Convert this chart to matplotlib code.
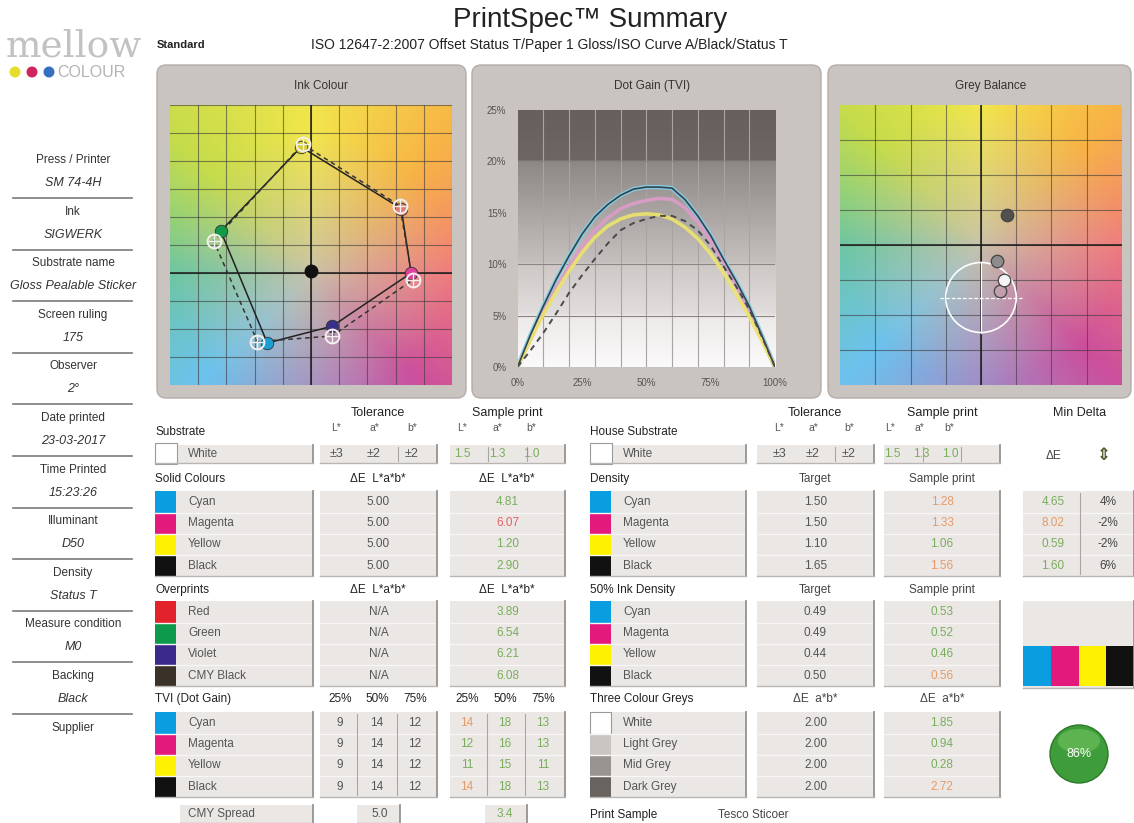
import numpy as np
import matplotlib
matplotlib.use('Agg')
import matplotlib.pyplot as plt
from matplotlib.patches import Rectangle, FancyBboxPatch, Circle, Ellipse
from matplotlib.colors import LinearSegmentedColormap, to_rgb

plt.rcParams['font.family'] = ['Liberation Sans', 'DejaVu Sans']

W, H = 1134, 823

# ---------------- data ----------------
info_labels = ['Press / Printer', 'Ink', 'Substrate name', 'Screen ruling', 'Observer',
               'Date printed', 'Time Printed', 'Illuminant', 'Density',
               'Measure condition', 'Backing', 'Supplier']
info_values = ['SM 74-4H', 'SIGWERK', 'Gloss Pealable Sticker', '175', '2°',
               '23-03-2017', '15:23:26', 'D50', 'Status T', 'M0', 'Black', '']

# ink colour plot (a*, b*)
ink_names = ['Yellow', 'Red', 'Magenta', 'Violet', 'Cyan', 'Green']
ink_sample_a = [-7, 64, 71, 15, -31, -64]
ink_sample_b = [90, 46, 0, -38, -50, 30]
ink_target_a = [-6, 63, 72, 15, -38, -69]
ink_target_b = [92, 48, -5, -45, -49, 23]
ink_fill = ['#d6cf3a', '#e07a70', '#e0409a', '#3a2f8a', '#1a9fd2', '#129a48']
black_a, black_b = 0, 1.6

# dot gain (TVI) curves
tone = [0, 5, 10, 15, 20, 25, 30, 35, 40, 45, 50, 55, 60, 65, 70, 75, 80, 85, 90, 95, 100]
tvi_cyan = [0, 3.1, 5.9, 8.5, 10.8, 12.9, 14.6, 15.8, 16.7, 17.3, 17.5, 17.5, 17.4, 16.3, 14.7, 12.8, 10.5, 8.3, 5.9, 3.0, 0]
tvi_magenta = [0, 2.7, 5.3, 7.7, 9.8, 11.7, 13.3, 14.5, 15.4, 15.9, 16.2, 16.4, 16.3, 15.5, 14.1, 12.3, 10.2, 7.9, 5.5, 2.8, 0]
tvi_yellow = [0, 2.6, 5.1, 7.3, 9.3, 11.1, 12.6, 13.7, 14.4, 14.8, 14.9, 14.8, 14.4, 13.6, 12.5, 11.0, 9.2, 7.1, 4.9, 2.5, 0]
tvi_black = [0, 3.1, 5.9, 8.5, 10.8, 12.9, 14.6, 15.8, 16.7, 17.3, 17.5, 17.5, 17.4, 16.3, 14.7, 12.8, 10.5, 8.3, 5.9, 3.0, 0]
tvi_target = [0, 1.6, 3.3, 5.2, 7.2, 8.9, 10.5, 12.0, 13.3, 14.0, 14.4, 14.7, 14.7, 14.2, 13.3, 11.8, 9.8, 7.8, 5.6, 2.9, 0]

# grey balance plot
grey_a = [1.1, 1.3, 0.9, 1.5]
grey_b = [-2.6, -2.0, -0.9, 1.7]
grey_fill = ['none', '#f4f4f4', '#8c8c8c', '#505050']
grey_tol_a, grey_tol_b, grey_tol_r = 0, -3.0, 2.0

# tables
sub_tol = ['±3', '±2', '±2']
sub_sample = ['1.5', '1.3', '1.0']
sub_sample_col = ['g', 'g', 'g']

cmyk_names = ['Cyan', 'Magenta', 'Yellow', 'Black']
cmyk_swatch = ['#0a9ee0', '#e4197c', '#fff200', '#111111']
solid_tol = ['5.00', '5.00', '5.00', '5.00']
solid_sample = ['4.81', '6.07', '1.20', '2.90']
solid_sample_col = ['g', 'r', 'g', 'g']

over_names = ['Red', 'Green', 'Violet', 'CMY Black']
over_swatch = ['#e3232b', '#0e9a4c', '#3b2a8c', '#3a3129']
over_tol = ['N/A', 'N/A', 'N/A', 'N/A']
over_sample = ['3.89', '6.54', '6.21', '6.08']
over_sample_col = ['g', 'g', 'g', 'g']

tvi_head = ['25%', '50%', '75%']
tvi_tol = [['9', '14', '12'], ['9', '14', '12'], ['9', '14', '12'], ['9', '14', '12']]
tvi_sample = [['14', '18', '13'], ['12', '16', '13'], ['11', '15', '11'], ['14', '18', '13']]
tvi_sample_col = [['o', 'g', 'g'], ['g', 'g', 'g'], ['g', 'g', 'g'], ['o', 'g', 'g']]
spread_tol, spread_sample = '5.0', '3.4'

dens_target = ['1.50', '1.50', '1.10', '1.65']
dens_sample = ['1.28', '1.33', '1.06', '1.56']
dens_sample_col = ['o', 'o', 'g', 'o']
min_de = ['4.65', '8.02', '0.59', '1.60']
min_de_col = ['g', 'o', 'g', 'g']
min_pct = ['4%', '-2%', '-2%', '6%']

ink50_target = ['0.49', '0.49', '0.44', '0.50']
ink50_sample = ['0.53', '0.52', '0.46', '0.56']
ink50_sample_col = ['g', 'g', 'g', 'o']

grey_names = ['White', 'Light Grey', 'Mid Grey', 'Dark Grey']
grey_swatch = ['#ffffff', '#c9c5c1', '#99948f', '#68635e']
grey_target = ['2.00', '2.00', '2.00', '2.00']
grey_sample = ['1.85', '0.94', '0.28', '2.72']
grey_sample_col = ['g', 'g', 'g', 'o']

score = '86%'
print_sample = 'Tesco Sticoer'

COL = {'g': '#79ad5c', 'o': '#e69a6a', 'r': '#e26262', 'n': '#555555'}

# hue wheel used for the a*/b* plane backgrounds (angle in degrees -> edge colour)
wheel_deg = [-180, -135, -90, -45, 0, 45, 90, 135, 180]
wheel_col = ['#6cc6a2', '#6cc2ee', '#a08cc8', '#cc4f9c', '#f07c7c', '#f8b446',
             '#f2e64c', '#c6dc4a', '#6cc6a2']
plane_centre = '#c9c3aa'


def plane(u, v):
    ang = np.degrees(np.arctan2(v, u))
    rad = np.clip(np.hypot(u, v), 0, 1) ** 0.85
    wc = np.array([to_rgb(c) for c in wheel_col])
    edge = np.stack([np.interp(ang, wheel_deg, wc[:, k]) for k in range(3)], axis=-1)
    cen = np.array(to_rgb(plane_centre))
    return cen * (1 - rad[..., None]) + edge * rad[..., None]


fig = plt.figure(figsize=(W / 100, H / 100), dpi=100)
bg = fig.add_axes([0, 0, 1, 1])
bg.set_xlim(0, W)
bg.set_ylim(H, 0)
bg.axis('off')


def px_axes(x0, y0, x1, y1):
    return fig.add_axes([x0 / W, 1 - y1 / H, (x1 - x0) / W, (y1 - y0) / H])


def txt(x, y, s, size=8.5, color='#555555', ha='center', **kw):
    bg.text(x, y, s, fontsize=size, color=color, ha=ha, va='center', **kw)


# ---------------- header ----------------
txt(590, 20, 'PrintSpec™ Summary', size=20, color='#222222')
txt(157, 45, 'Standard', size=8, color='#222222', ha='left', weight='bold')
txt(311, 45, 'ISO 12647-2:2007 Offset Status T/Paper 1 Gloss/ISO Curve A/Black/Status T',
    size=10, color='#222222', ha='left')
bg.text(74, 46, 'mellow', fontsize=27, color='#c2c2c2', ha='center', va='center',
        family='DejaVu Serif')
for cx, c in zip([15, 32, 49], ['#e6dc2a', '#d0245e', '#3472c0']):
    bg.add_patch(Circle((cx, 72), 5.5, fc=c, ec='none'))
txt(57, 72, 'COLOUR', size=11.5, color='#b3b3b3', ha='left')

# ---------------- side info ----------------
for i, (lab, val) in enumerate(zip(info_labels, info_values)):
    y = 160 + i * 51.6
    txt(73, y, lab, size=8.5, color='#333333')
    if val:
        txt(73, y + 23, val, size=9, color='#333333', style='italic')
    if i < len(info_labels) - 1:
        bg.plot([13, 132], [y + 38, y + 38], color='#7a7a7a', lw=1.2)

# ---------------- panels ----------------
panels = [(157, 466, 'Ink Colour', 321), (472, 821, 'Dot Gain (TVI)', 652),
          (828, 1131, 'Grey Balance', 991)]
for x0, x1, title, tx in panels:
    bg.add_patch(FancyBboxPatch((x0, 65), x1 - x0, 333, boxstyle='round,pad=0,rounding_size=9',
                                fc='#c9c4c0', ec='#b3ada9', lw=1))
    txt(tx, 86, title, size=8.5, color='#333333')

# ink colour
ax1 = px_axes(170, 105, 452, 385)
A, B = np.meshgrid(np.linspace(-100, 100, 240), np.linspace(120, -80, 240))
ax1.imshow(plane(A / 100, B / 100), extent=(-100, 100, -80, 120), aspect='auto', zorder=0)
for v in range(-80, 101, 20):
    ax1.axvline(v, color='#3a3a3a', lw=0.8, alpha=0.6, zorder=1)
for v in range(-60, 121, 20):
    ax1.axhline(v, color='#3a3a3a', lw=0.8, alpha=0.6, zorder=1)
ax1.axvline(0, color='#1a1a1a', lw=1.1, zorder=1)
ax1.axhline(0, color='#1a1a1a', lw=1.1, zorder=1)
ax1.plot(ink_sample_a + ink_sample_a[:1], ink_sample_b + ink_sample_b[:1], color='#222222', lw=1.1, zorder=2)
ax1.plot(ink_target_a + ink_target_a[:1], ink_target_b + ink_target_b[:1], color='#333333', lw=1.1,
         dashes=(3, 2.5), zorder=2)
for a, b, c in zip(ink_sample_a, ink_sample_b, ink_fill):
    ax1.plot(a, b, 'o', ms=9, mfc=c, mec='#333333', mew=0.6, zorder=3)
for a, b in zip(ink_target_a, ink_target_b):
    ax1.plot(a, b, 'o', ms=10, mfc='none', mec='#f4f0f0', mew=1.4, zorder=4)
    ax1.plot(a, b, '+', ms=10, mec='#f4f0f0', mew=1.0, zorder=4)
ax1.plot(black_a, black_b, 'o', ms=9, mfc='#111111', mec='#111111', zorder=3)
ax1.set_xlim(-100, 100)
ax1.set_ylim(-80, 120)
ax1.axis('off')

# dot gain
ax2 = px_axes(517.5, 110, 775, 367)
shade = LinearSegmentedColormap.from_list('shade', [(0, '#fbfafa'), (0.2, '#ece9e8'), (0.2, '#e2dedd'),
                                                    (0.4, '#cdc8c6'), (0.4, '#c6c1bf'), (0.8, '#8d8785'),
                                                    (0.8, '#6d6664'), (1, '#675f5d')])
grad = np.linspace(0, 1, 300).reshape(-1, 1)
ax2.imshow(grad, extent=(0, 100, 0, 25), origin='lower', aspect='auto', cmap=shade, zorder=0)
for v in range(10, 100, 10):
    ax2.axvline(v, color='#a9a3a1', lw=0.8, zorder=1)
for v in [5, 10, 20]:
    ax2.axhline(v, color='#8a8482', lw=0.8, zorder=1)
ax2.plot(tone, tvi_cyan, color='#86cde6', lw=3.2, alpha=0.9, zorder=2)
ax2.plot(tone, tvi_magenta, color='#dc9cc8', lw=2.6, alpha=0.9, zorder=2)
ax2.plot(tone, tvi_yellow, color='#ece46a', lw=2.6, alpha=0.9, zorder=2)
ax2.plot(tone, tvi_black, color='#2c4650', lw=1.2, zorder=3)
ax2.plot(tone, tvi_target, color='#4a4a4a', lw=1.4, dashes=(3, 2.5), zorder=3)
ax2.set_xlim(0, 100)
ax2.set_ylim(0, 25)
ax2.set_xticks([0, 25, 50, 75, 100])
ax2.set_xticklabels(['0%', '25%', '50%', '75%', '100%'])
ax2.set_yticks([0, 5, 10, 15, 20, 25])
ax2.set_yticklabels(['0%', '5%', '10%', '15%', '20%', '25%'])
ax2.tick_params(length=0, labelsize=7, labelcolor='#555555', pad=8)
for s in ax2.spines.values():
    s.set_visible(False)

# grey balance
ax3 = px_axes(840, 105, 1122, 385)
A, B = np.meshgrid(np.linspace(-8, 8, 240), np.linspace(8, -8, 240))
ax3.imshow(plane(A / 8, B / 8), extent=(-8, 8, -8, 8), aspect='auto', zorder=0)
for v in range(-6, 7, 2):
    ax3.axvline(v, color='#3a3a3a', lw=0.8, alpha=0.6, zorder=1)
    ax3.axhline(v, color='#3a3a3a', lw=0.8, alpha=0.6, zorder=1)
ax3.axvline(0, color='#1a1a1a', lw=1.1, zorder=1)
ax3.axhline(0, color='#1a1a1a', lw=1.1, zorder=1)
ax3.add_patch(Circle((grey_tol_a, grey_tol_b), grey_tol_r, fill=False, ec='white', lw=1.2, zorder=2))
ax3.plot([grey_tol_a - 2.35, grey_tol_a + 2.35], [grey_tol_b, grey_tol_b], color='white', lw=0.9,
         dashes=(3, 1.5), zorder=2)
ax3.plot([grey_tol_a, grey_tol_a], [grey_tol_b - grey_tol_r, grey_tol_b + grey_tol_r], color='white',
         lw=0.9, zorder=2)
for a, b, c in zip(grey_a, grey_b, grey_fill):
    ax3.plot(a, b, 'o', ms=9, mfc=c, mec='#444444', mew=0.9, zorder=3)
ax3.set_xlim(-8, 8)
ax3.set_ylim(-8, 8)
ax3.axis('off')


# ---------------- tables ----------------
def box(x0, x1, y0, y1, nrows=1, vsplits=()):
    bg.add_patch(Rectangle((x0, y0), x1 - x0, y1 - y0, fc='#ebe7e5', ec='none'))
    for i in range(1, nrows):
        y = y0 + (y1 - y0) * i / nrows
        bg.plot([x0, x1], [y, y], color='#f8f6f5', lw=1)
    for xs in vsplits:
        bg.plot([xs, xs], [y0 + 2, y1 - 2], color='#aaa6a4', lw=0.8)
    bg.plot([x1, x1], [y0, y1], color='#96928f', lw=1.3)
    bg.plot([x0, x1], [y1, y1], color='#b9b5b3', lw=1)


RH = 21.2


def group(lx0, lx1, tx0, tx1, sx0, sx1, y_first, names, swatches, tvals, svals, scols,
          tcols=None, scols_x=None, tsplit=(), ssplit=()):
    y0 = y_first - RH / 2
    y1 = y_first + RH * 3.5
    box(lx0, lx1, y0, y1, 4)
    box(tx0, tx1, y0, y1, 4, tsplit)
    box(sx0, sx1, y0, y1, 4, ssplit)
    for i, (n, sw) in enumerate(zip(names, swatches)):
        y = y_first + i * RH
        ec = '#9a9a9a' if sw == '#ffffff' else 'none'
        bg.add_patch(Rectangle((lx0, y - RH / 2), 21, RH, fc=sw, ec=ec, lw=0.8))
        txt(lx0 + 33, y, n, ha='left')
        if tcols is None:
            txt((tx0 + tx1) / 2, y, tvals[i])
            txt((sx0 + sx1) / 2, y, svals[i], color=COL[scols[i]])
        else:
            for j in range(3):
                txt(tcols[j], y, tvals[i][j])
                txt(scols_x[j], y, svals[i][j], color=COL[scols[i][j]])


def white_row(lx0, lx1, tx0, tx1, sx0, sx1, tcols, scols_x):
    y = 454
    box(lx0, lx1, 445, 463)
    box(tx0, tx1, 445, 463, 1, [tx0 + (tx1 - tx0) * 2 / 3])
    box(sx0, sx1, 445, 463, 1, [sx0 + (sx1 - sx0) / 3, sx0 + (sx1 - sx0) * 2 / 3])
    bg.add_patch(Rectangle((lx0, 443), 22, 21, fc='white', ec='#9a9a9a', lw=0.8))
    txt(lx0 + 33, y, 'White', ha='left')
    for j in range(3):
        txt(tcols[j], y, sub_tol[j], size=9)
        txt(scols_x[j], y, sub_sample[j], color=COL[sub_sample_col[j]])


HEAD = '#222222'

# left block
L_lab, L_tol, L_smp = (155, 313), (320, 437), (450, 565)
txt(378, 413, 'Tolerance', color=HEAD, size=9)
txt(507, 413, 'Sample print', color=HEAD, size=9)
txt(155, 432, 'Substrate', ha='left', color=HEAD)
for x, s in zip([336, 374, 412, 462, 497, 531], ['L*', 'a*', 'b*', 'L*', 'a*', 'b*']):
    txt(x, 428, s, size=7.5)
white_row(*L_lab, *L_tol, *L_smp, [336, 374, 412], [462, 497, 531])

txt(155, 479, 'Solid Colours', ha='left', color=HEAD)
txt(378, 479, 'ΔE  L*a*b*', color=HEAD)
txt(507, 479, 'ΔE  L*a*b*', color=HEAD)
group(*L_lab, *L_tol, *L_smp, 502, cmyk_names, cmyk_swatch, solid_tol, solid_sample, solid_sample_col)

txt(155, 590, 'Overprints', ha='left', color=HEAD)
txt(378, 590, 'ΔE  L*a*b*', color=HEAD)
txt(507, 590, 'ΔE  L*a*b*', color=HEAD)
group(*L_lab, *L_tol, *L_smp, 612, over_names, over_swatch, over_tol, over_sample, over_sample_col)

txt(155, 699, 'TVI (Dot Gain)', ha='left', color=HEAD)
for x, s in zip([340, 377, 415, 467, 505, 543], tvi_head + tvi_head):
    txt(x, 699, s, color=HEAD)
group(*L_lab, *L_tol, *L_smp, 723, cmyk_names, cmyk_swatch, tvi_tol, tvi_sample, tvi_sample_col,
      tcols=[340, 377, 415], scols_x=[467, 505, 543], tsplit=[357, 397], ssplit=[487, 525])

box(180, 313, 805, 823)
txt(188, 814, 'CMY Spread', ha='left')
box(357, 400, 805, 823)
txt(380, 814, spread_tol)
box(485, 527, 805, 823)
txt(505, 814, spread_sample, color=COL['g'])

# right block
R_lab, R_tol, R_smp = (590, 746), (757, 874), (884, 1000)
txt(815, 413, 'Tolerance', color=HEAD, size=9)
txt(942, 413, 'Sample print', color=HEAD, size=9)
txt(1080, 413, 'Min Delta', color=HEAD, size=9)
txt(590, 432, 'House Substrate', ha='left', color=HEAD)
for x, s in zip([779, 813, 849, 890, 919, 949], ['L*', 'a*', 'b*', 'L*', 'a*', 'b*']):
    txt(x, 428, s, size=7.5)
white_row(*R_lab, *R_tol, *R_smp, [779, 813, 849], [892, 921, 950])
txt(1054, 456, 'ΔE', color='#444444')
txt(1104, 455, '⇕', size=12, color='#4d5a2a', weight='bold')

txt(590, 479, 'Density', ha='left', color=HEAD)
txt(815, 479, 'Target', color='#444444')
txt(942, 479, 'Sample print', color='#444444')
group(*R_lab, *R_tol, *R_smp, 502, cmyk_names, cmyk_swatch, dens_target, dens_sample, dens_sample_col)
box(1023, 1134, 502 - RH / 2, 502 + RH * 3.5, 4, [1080])
for i in range(4):
    y = 502 + i * RH
    txt(1053, y, min_de[i], color=COL[min_de_col[i]])
    txt(1108, y, min_pct[i], color='#444444')

txt(590, 590, '50% Ink Density', ha='left', color=HEAD)
txt(815, 590, 'Target', color='#444444')
txt(942, 590, 'Sample print', color='#444444')
group(*R_lab, *R_tol, *R_smp, 612, cmyk_names, cmyk_swatch, ink50_target, ink50_sample, ink50_sample_col)
box(1023, 1134, 601, 688)
for i, c in enumerate(cmyk_swatch):
    bg.add_patch(Rectangle((1023 + i * 27.75, 646), 27.75, 40, fc=c, ec='none'))

txt(590, 699, 'Three Colour Greys', ha='left', color=HEAD)
txt(815, 699, 'ΔE  a*b*', color='#444444')
txt(942, 699, 'ΔE  a*b*', color='#444444')
group(*R_lab, *R_tol, *R_smp, 723, grey_names, grey_swatch, grey_target, grey_sample, grey_sample_col)

bg.add_patch(Circle((1079, 754), 29, fc='#3f9c3b', ec='#2c7a2a', lw=1))
bg.add_patch(Ellipse((1079, 741), 42, 24, fc='#86d06e', ec='none', alpha=0.45))
txt(1079, 754, score, size=9, color='white')

txt(590, 815, 'Print Sample', ha='left', color=HEAD)
txt(718, 815, print_sample, ha='left', color='#444444')

fig.savefig('out.png', dpi=100)
